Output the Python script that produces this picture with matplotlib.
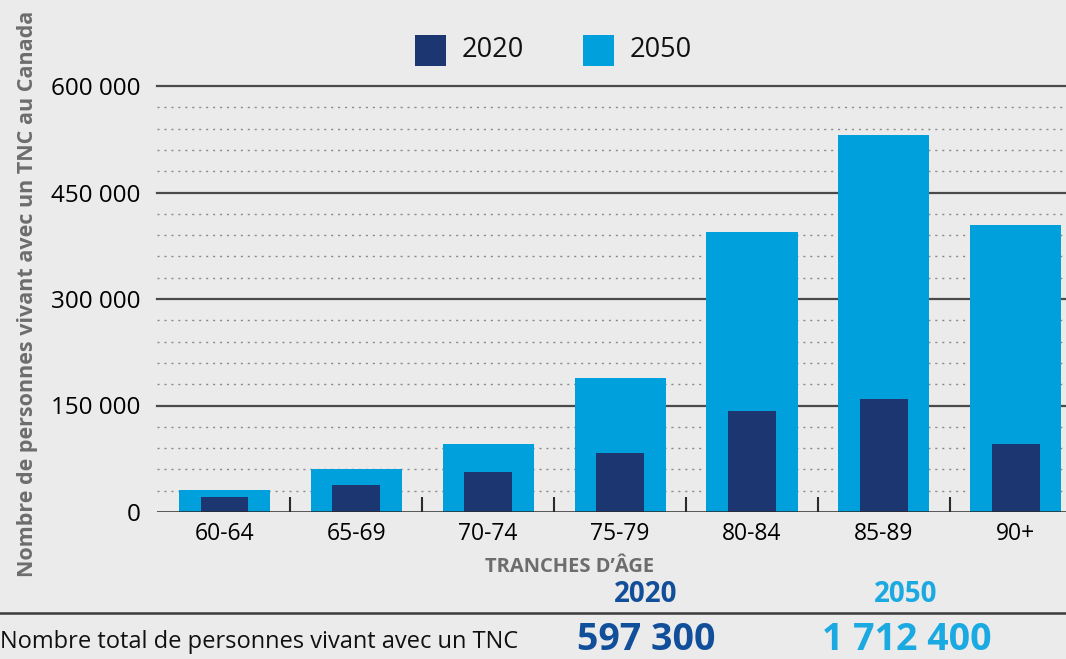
import matplotlib
matplotlib.use("Agg")
import matplotlib.pyplot as plt
from matplotlib.patches import Rectangle
from matplotlib.lines import Line2D
import numpy as np

categories = ["60-64", "65-69", "70-74", "75-79", "80-84", "85-89", "90+"]
values_2020 = [21000, 38000, 56000, 83000, 142000, 159000, 96000]
values_2050 = [31000, 60500, 96000, 189000, 394000, 531000, 404000]
yticks = [0, 150000, 300000, 450000, 600000]
ytick_labels = ["0", "150 000", "300 000", "450 000", "600 000"]
series_labels = ["2020", "2050"]
total_label = "Nombre total de personnes vivant avec un TNC"
totals = ["597 300", "1 712 400"]

DARK = "#1b3670"
LIGHT = "#00a0dc"
DARK_TXT = "#124f9a"
LIGHT_TXT = "#1aa9e1"
BG = "#ebebeb"
FONT = "Open Sans"

plt.rcParams['font.family'] = [FONT, 'DejaVu Sans']

fig = plt.figure(figsize=(10.66, 6.59), dpi=100, facecolor=BG)
W, H = 1066, 659
ax = fig.add_axes([157 / W, 1 - 512 / H, 1 - 157 / W, (512 - 86) / H])
ax.set_facecolor(BG)

x = np.arange(len(categories))
ax.bar(x, values_2050, width=0.69, color=LIGHT, zorder=3)
ax.bar(x, values_2020, width=0.36, color=DARK, zorder=4)

ax.set_xlim(-0.51, 6.38)
ax.set_ylim(0, 600000)

# grid
for v in range(30000, 600001, 30000):
    if v % 150000 == 0:
        ax.axhline(v, color="#4a4a4a", lw=1.6, zorder=1, clip_on=False)
    else:
        ax.axhline(v, color="#8a8a8a", lw=1.0, ls=(0, (1.5, 3.5)), zorder=1)
ax.axhline(0, color="#2a2a2a", lw=1.8, zorder=5)

for s in ax.spines.values():
    s.set_visible(False)

ax.set_yticks(yticks)
ax.set_yticklabels(ytick_labels, fontsize=17.5)
ax.tick_params(axis="y", length=0, pad=12)

ax.set_xticks(x)
ax.set_xticklabels(categories, fontsize=16.5)
ax.tick_params(axis="x", length=0, pad=7)
# separator ticks between categories
ax.set_xticks(x[:-1] + 0.5, minor=True)
ax.tick_params(axis="x", which="minor", direction="in", length=11, width=1.5, color="#2a2a2a")

# y label
fig.text(28 / W, 1 - 294 / H, "Nombre de personnes vivant avec un TNC au Canada",
         rotation=90, ha="center", va="center", fontsize=15.5, fontweight="bold", color="#6d6d6d")

# legend
for sx, lab, col in [(415, series_labels[0], DARK), (583, series_labels[1], LIGHT)]:
    fig.patches.append(Rectangle((sx / W, 1 - 66 / H), 31 / W, 31 / H, transform=fig.transFigure,
                                 facecolor=col, edgecolor="none"))
    fig.text((sx + 47) / W, 1 - 50 / H, lab, ha="left", va="center", fontsize=19.5, color="#111111")

fig.text(570 / W, 1 - 567 / H, "TRANCHES D’ÂGE", ha="center", va="center",
         fontsize=14.5, fontweight="bold", color="#6d6d6d")
fig.text(646 / W, 1 - 594 / H, series_labels[0], ha="center", va="center",
         fontsize=20, fontweight="bold", color=DARK_TXT)
fig.text(906 / W, 1 - 594 / H, series_labels[1], ha="center", va="center",
         fontsize=20, fontweight="bold", color=LIGHT_TXT)

fig.lines.append(Line2D([0, 1], [1 - 613 / H, 1 - 613 / H], transform=fig.transFigure,
                        color="#3a3a3a", lw=1.8))

fig.text(0 / W, 1 - 642 / H, total_label, ha="left", va="center", fontsize=17, color="#111111")
fig.text(646 / W, 1 - 640 / H, totals[0], ha="center", va="center",
         fontsize=27, fontweight="bold", color=DARK_TXT)
fig.text(907 / W, 1 - 640 / H, totals[1], ha="center", va="center",
         fontsize=27, fontweight="bold", color=LIGHT_TXT)

fig.savefig("out.png", dpi=100, facecolor=BG)
